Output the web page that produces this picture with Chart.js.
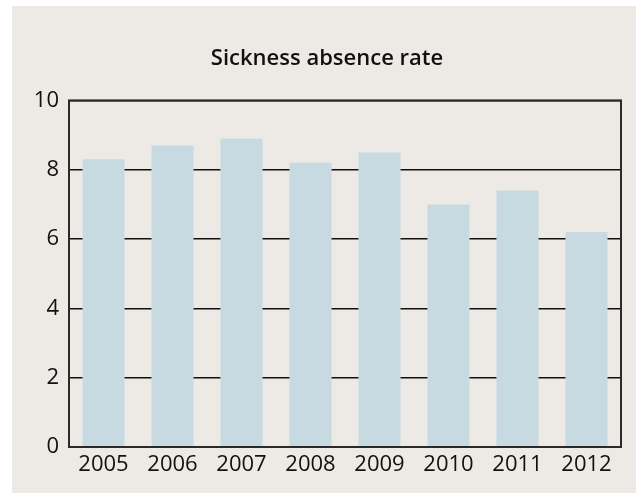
<!DOCTYPE html>
<html>
<head>
<meta charset="utf-8">
<script src="https://cdn.jsdelivr.net/npm/chart.js@4.4.1/dist/chart.umd.min.js"></script>
<style>
  html, body { margin: 0; padding: 0; background: #ffffff; }
  #panel {
    position: absolute; left: 12px; top: 6px;
    width: 624px; height: 487px;
    background: #edeae5;
  }
</style>
</head>
<body>
<div id="panel"><canvas id="chart" width="624" height="487"></canvas></div>
<script>
// dados
const years = ['2005', '2006', '2007', '2008', '2009', '2010', '2011', '2012'];
const absenceRate = [8.3, 8.7, 8.9, 8.2, 8.5, 7.0, 7.4, 6.2];
const yTicks = [0, 2, 4, 6, 8, 10];

const fontFamily = '"Open Sans", "Noto Sans", sans-serif';

// moldura do plot (esquerda, topo, direita, base)
const frame = {
  id: 'frame',
  afterDatasetsDraw(chart) {
    const { ctx, chartArea: a } = chart;
    ctx.save();
    ctx.strokeStyle = '#2a2a2a';
    ctx.lineWidth = 2;
    ctx.strokeRect(a.left, a.top, a.right - a.left, a.bottom - a.top);
    ctx.restore();
  }
};

new Chart(document.getElementById('chart').getContext('2d'), {
  type: 'bar',
  data: {
    labels: years,
    datasets: [{
      label: 'Sickness absence rate',
      data: absenceRate,
      backgroundColor: '#c7dae1',
      borderWidth: 0,
      barPercentage: 0.61,
      categoryPercentage: 1
    }]
  },
  options: {
    responsive: false,
    animation: false,
    devicePixelRatio: 1,
    layout: { padding: { left: 21, right: 15, top: 0, bottom: 10 } },
    plugins: {
      legend: { display: false },
      tooltip: { enabled: false },
      title: {
        display: true,
        text: 'Sickness absence rate',
        color: '#111',
        font: { family: fontFamily, size: 22, weight: '600' },
        padding: { top: 40, bottom: 28 }
      }
    },
    scales: {
      x: {
        grid: { display: false, drawTicks: false },
        border: { display: false },
        ticks: {
          color: '#111',
          font: { family: fontFamily, size: 22 },
          padding: 5,
          maxRotation: 0
        },
        afterFit: (s) => { s.height = 36; }
      },
      y: {
        min: 0, max: 10,
        afterBuildTicks: (s) => { s.ticks = yTicks.map(v => ({ value: v })); },
        grid: { color: '#111', lineWidth: 1.5, drawTicks: false },
        border: { display: false },
        ticks: {
          color: '#111',
          font: { family: fontFamily, size: 22 },
          padding: 10
        },
        afterFit: (s) => { s.width = 36; }
      }
    }
  },
  plugins: [frame]
});
</script>
</body>
</html>
